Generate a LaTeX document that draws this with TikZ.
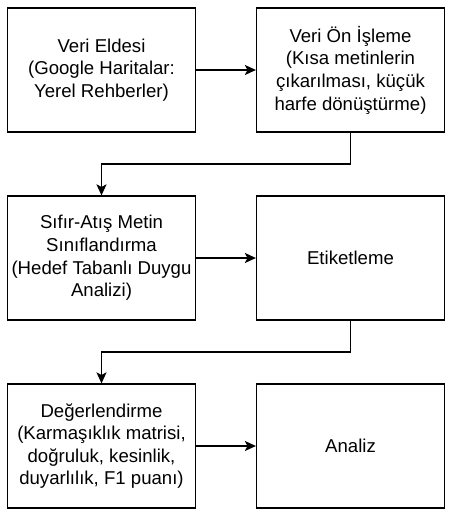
\documentclass[tikz,border=0pt]{standalone}
\usepackage{fontspec}
\setmainfont{Liberation Sans}
\usetikzlibrary{arrows.meta,calc}
\tikzset{
  box/.style={draw=black, line width=1.2pt, fill=white, minimum width=188pt, minimum height=124pt,
    inner sep=0pt, align=center, font=\fontsize{18.6pt}{22.6pt}\selectfont},
  arr/.style={draw=black, line width=1.2pt, -{Stealth[length=11pt,width=10pt,inset=2.5pt]}}
}
\begin{document}
\begin{tikzpicture}[x=1pt,y=-1pt]
\useasboundingbox[fill=white] (0,0) rectangle (452,515);
\node[box] (A) at (101.5,70) {Veri Eldesi\\(Google Haritalar:\\Yerel Rehberler)};
\node[box] (B) at (350.5,70) {Veri Ön İşleme\\(Kısa metinlerin\\çıkarılması, küçük\\harfe dönüştürme)};
\node[box] (C) at (101.5,258) {Sıfır-Atış Metin\\Sınıflandırma\\(Hedef Tabanlı Duygu\\Analizi)};
\node[box] (D) at (350.5,258) {Etiketleme};
\node[box] (E) at (101.5,446) {Değerlendirme\\(Karmaşıklık matrisi,\\doğruluk, kesinlik,\\duyarlılık, F1 puanı)};
\node[box] (F) at (350.5,446) {Analiz};
\coordinate (m1) at (0,164);
\coordinate (m2) at (0,352);
\draw[arr] (A) -- (B);
\draw[arr] (B.south) -- (B.south |- m1) -| (C.north);
\draw[arr] (C) -- (D);
\draw[arr] (D.south) -- (D.south |- m2) -| (E.north);
\draw[arr] (E) -- (F);
\end{tikzpicture}
\end{document}
